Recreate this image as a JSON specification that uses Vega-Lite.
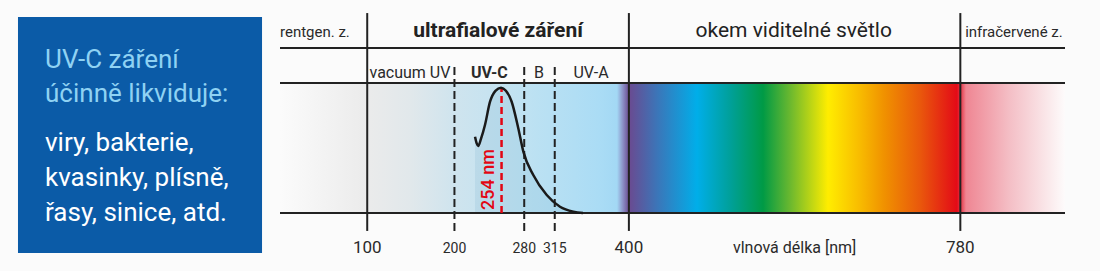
{
  "$schema": "https://vega.github.io/schema/vega-lite/v6.json",
  "width": 1100,
  "height": 271,
  "padding": 0,
  "autosize": {"type": "none"},
  "background": "#fbfbfb",
  "config": {"view": {"stroke": null}, "font": "Roboto", "axis": {"disable": true}},
  "datasets": {
    "curve": [
      {"nm": 223.6, "absorbance": 0.587},
      {"nm": 225.5, "absorbance": 0.535},
      {"nm": 227.3, "absorbance": 0.515},
      {"nm": 230.4, "absorbance": 0.57},
      {"nm": 235.0, "absorbance": 0.677},
      {"nm": 240.8, "absorbance": 0.856},
      {"nm": 247.0, "absorbance": 0.94},
      {"nm": 253.4, "absorbance": 0.964},
      {"nm": 259.0, "absorbance": 0.94},
      {"nm": 265.6, "absorbance": 0.856},
      {"nm": 273.2, "absorbance": 0.652},
      {"nm": 279.0, "absorbance": 0.472},
      {"nm": 290.4, "absorbance": 0.292},
      {"nm": 305.8, "absorbance": 0.138},
      {"nm": 321.0, "absorbance": 0.048},
      {"nm": 336.3, "absorbance": 0.01},
      {"nm": 347.4, "absorbance": 0.0}
    ],
    "bounds": [
      {"nm": 100, "kind": "solid"},
      {"nm": 400, "kind": "solid"},
      {"nm": 780, "kind": "solid"},
      {"nm": 200, "kind": "dashed"},
      {"nm": 280, "kind": "dashed"},
      {"nm": 315, "kind": "dashed"}
    ],
    "hlines": [
      {"level": 1.269},
      {"level": 1.0},
      {"level": 0.0}
    ]
  },
  "layer": [
    {
      "data": {"values": [{"x": -300.4, "x2": -20.6, "y": 1.5077, "y2": -0.3077}]},
      "mark": {"type": "rect", "fill": "#0b5ba7"},
      "encoding": {
        "x": {"field": "x", "type": "quantitative", "scale": {"domain": [-321.02, 940.13], "nice": false, "zero": false}},
        "x2": {"field": "x2"},
        "y": {"field": "y", "type": "quantitative", "scale": {"domain": [-0.44615, 1.63846], "nice": false, "zero": false}},
        "y2": {"field": "y2"}
      }
    },
    {
      "data": {"values": [{"from": 0, "to": 900, "bottom": 0, "top": 1}]},
      "mark": {"type": "rect", "fill": {
        "gradient": "linear", "x1": 0, "x2": 1, "y1": 0, "y2": 0,
        "stops": [
          {"offset": 0.0, "color": "#fbfbfb"},
          {"offset": 0.111, "color": "#ebebeb"},
          {"offset": 0.166, "color": "#e1e8eb"},
          {"offset": 0.2217, "color": "#cfe4ee"},
          {"offset": 0.3096, "color": "#bfe2f2"},
          {"offset": 0.4077, "color": "#aadcf5"},
          {"offset": 0.4293, "color": "#a3d8f4"},
          {"offset": 0.4369, "color": "#8b8fc6"},
          {"offset": 0.4446, "color": "#6a4a90"},
          {"offset": 0.4802, "color": "#3c75b8"},
          {"offset": 0.5312, "color": "#00aee9"},
          {"offset": 0.5733, "color": "#00a09a"},
          {"offset": 0.6153, "color": "#009a45"},
          {"offset": 0.6497, "color": "#6ab82f"},
          {"offset": 0.6981, "color": "#ffed00"},
          {"offset": 0.7389, "color": "#f8bb00"},
          {"offset": 0.7707, "color": "#f09000"},
          {"offset": 0.8153, "color": "#e9580c"},
          {"offset": 0.8624, "color": "#e30a17"},
          {"offset": 0.8688, "color": "#e84a5a"},
          {"offset": 0.8739, "color": "#ef8693"},
          {"offset": 0.9299, "color": "#f4bfc6"},
          {"offset": 1.0, "color": "#fdfbfb"}
        ]}},
      "encoding": {"x": {"field": "from", "type": "quantitative"}, "x2": {"field": "to"}, "y": {"field": "bottom", "type": "quantitative"}, "y2": {"field": "top"}}
    },
    {
      "data": {"name": "curve"},
      "mark": {"type": "area", "interpolate": "monotone", "fill": "#3d88ad", "opacity": 0.1},
      "encoding": {"x": {"field": "nm", "type": "quantitative"}, "y": {"field": "absorbance", "type": "quantitative"}}
    },
    {
      "data": {"name": "hlines"},
      "mark": {"type": "rule", "stroke": "#222222", "strokeWidth": 2},
      "encoding": {"y": {"field": "level", "type": "quantitative"}, "x": {"datum": 0, "type": "quantitative"}, "x2": {"datum": 900}}
    },
    {
      "data": {"name": "bounds"},
      "transform": [{"filter": "datum.kind === 'solid'"}],
      "mark": {"type": "rule", "stroke": "#222222", "strokeWidth": 2},
      "encoding": {"x": {"field": "nm", "type": "quantitative"}, "y": {"datum": -0.138, "type": "quantitative"}, "y2": {"datum": 1.538}}
    },
    {
      "data": {"name": "bounds"},
      "transform": [{"filter": "datum.kind === 'dashed'"}],
      "mark": {"type": "rule", "stroke": "#222222", "strokeWidth": 2, "strokeDash": [8, 4]},
      "encoding": {"x": {"field": "nm", "type": "quantitative"}, "y": {"datum": -0.138, "type": "quantitative"}, "y2": {"datum": 1.146}}
    },
    {
      "data": {"values": [{"nm": 254, "absorbance": 0.96, "base": 0}]},
      "mark": {"type": "rule", "stroke": "#e30613", "strokeWidth": 2.5, "strokeDash": [7, 4]},
      "encoding": {"x": {"field": "nm", "type": "quantitative"}, "y": {"field": "base", "type": "quantitative"}, "y2": {"field": "absorbance"}}
    },
    {
      "data": {"name": "curve"},
      "mark": {"type": "line", "interpolate": "monotone", "stroke": "#1a1a1a", "strokeWidth": 2.5},
      "encoding": {"x": {"field": "nm", "type": "quantitative"}, "y": {"field": "absorbance", "type": "quantitative"}}
    },
    {
      "data": {"values": [{"nm": 240, "label": "254 nm"}]},
      "mark": {"type": "text", "angle": 270, "align": "center", "baseline": "middle", "fontSize": 18, "fontWeight": 500, "color": "#e30613"},
      "encoding": {"x": {"field": "nm", "type": "quantitative"}, "y": {"datum": 0.258, "type": "quantitative"}, "text": {"field": "label"}}
    },
    {
      "data": {"values": [{"nm": 0, "label": "rentgen. z."}, {"nm": 785.5, "label": "infračervené z."}]},
      "mark": {"type": "text", "align": "left", "baseline": "alphabetic", "fontSize": 15, "color": "#2a2a2a"},
      "encoding": {"x": {"field": "nm", "type": "quantitative"}, "y": {"datum": 1.354, "type": "quantitative"}, "text": {"field": "label"}}
    },
    {
      "data": {"values": [{"nm": 250, "label": "ultrafialové záření"}]},
      "mark": {"type": "text", "align": "center", "baseline": "alphabetic", "fontSize": 21, "fontWeight": "bold", "color": "#222222"},
      "encoding": {"x": {"field": "nm", "type": "quantitative"}, "y": {"datum": 1.354, "type": "quantitative"}, "text": {"field": "label"}}
    },
    {
      "data": {"values": [{"nm": 589, "label": "okem viditelné světlo"}]},
      "mark": {"type": "text", "align": "center", "baseline": "alphabetic", "fontSize": 21, "color": "#222222"},
      "encoding": {"x": {"field": "nm", "type": "quantitative"}, "y": {"datum": 1.354, "type": "quantitative"}, "text": {"field": "label"}}
    },
    {
      "data": {"values": [{"nm": 149, "label": "vacuum UV"}, {"nm": 297, "label": "B"}, {"nm": 356.6, "label": "UV-A"}]},
      "mark": {"type": "text", "align": "center", "baseline": "alphabetic", "fontSize": 16, "color": "#2a2a2a"},
      "encoding": {"x": {"field": "nm", "type": "quantitative"}, "y": {"datum": 1.038, "type": "quantitative"}, "text": {"field": "label"}}
    },
    {
      "data": {"values": [{"nm": 240, "label": "UV-C"}]},
      "mark": {"type": "text", "align": "center", "baseline": "alphabetic", "fontSize": 16, "fontWeight": "bold", "color": "#2a2a2a"},
      "encoding": {"x": {"field": "nm", "type": "quantitative"}, "y": {"datum": 1.038, "type": "quantitative"}, "text": {"field": "label"}}
    },
    {
      "data": {"values": [{"nm": 100, "label": "100"}, {"nm": 400, "label": "400"}, {"nm": 780, "label": "780"}]},
      "mark": {"type": "text", "align": "center", "baseline": "alphabetic", "fontSize": 17, "color": "#2a2a2a"},
      "encoding": {"x": {"field": "nm", "type": "quantitative"}, "y": {"datum": -0.3077, "type": "quantitative"}, "text": {"field": "label"}}
    },
    {
      "data": {"values": [{"nm": 200, "label": "200"}, {"nm": 280, "label": "280"}, {"nm": 315, "label": "315"}]},
      "mark": {"type": "text", "align": "center", "baseline": "alphabetic", "fontSize": 14, "color": "#2a2a2a"},
      "encoding": {"x": {"field": "nm", "type": "quantitative"}, "y": {"datum": -0.3077, "type": "quantitative"}, "text": {"field": "label"}}
    },
    {
      "data": {"values": [{"nm": 590, "label": "vlnová délka [nm]"}]},
      "mark": {"type": "text", "align": "center", "baseline": "alphabetic", "fontSize": 16, "color": "#2a2a2a"},
      "encoding": {"x": {"field": "nm", "type": "quantitative"}, "y": {"datum": -0.3077, "type": "quantitative"}, "text": {"field": "label"}}
    },
    {
      "data": {"values": [{"nm": -269.4, "label": "UV-C záření\núčinně likviduje:"}]},
      "mark": {"type": "text", "align": "left", "baseline": "alphabetic", "fontSize": 26, "lineBreak": "\n", "lineHeight": 33.4, "color": "#8fd2f3"},
      "encoding": {"x": {"field": "nm", "type": "quantitative"}, "y": {"datum": 1.1131, "type": "quantitative"}, "text": {"field": "label"}}
    },
    {
      "data": {"values": [{"nm": -269.4, "label": "viry, bakterie,\nkvasinky, plísně,\nřasy, sinice, atd."}]},
      "mark": {"type": "text", "align": "left", "baseline": "alphabetic", "fontSize": 26, "lineBreak": "\n", "lineHeight": 35, "color": "#ffffff"},
      "encoding": {"x": {"field": "nm", "type": "quantitative"}, "y": {"datum": 0.4792, "type": "quantitative"}, "text": {"field": "label"}}
    }
  ]
}
